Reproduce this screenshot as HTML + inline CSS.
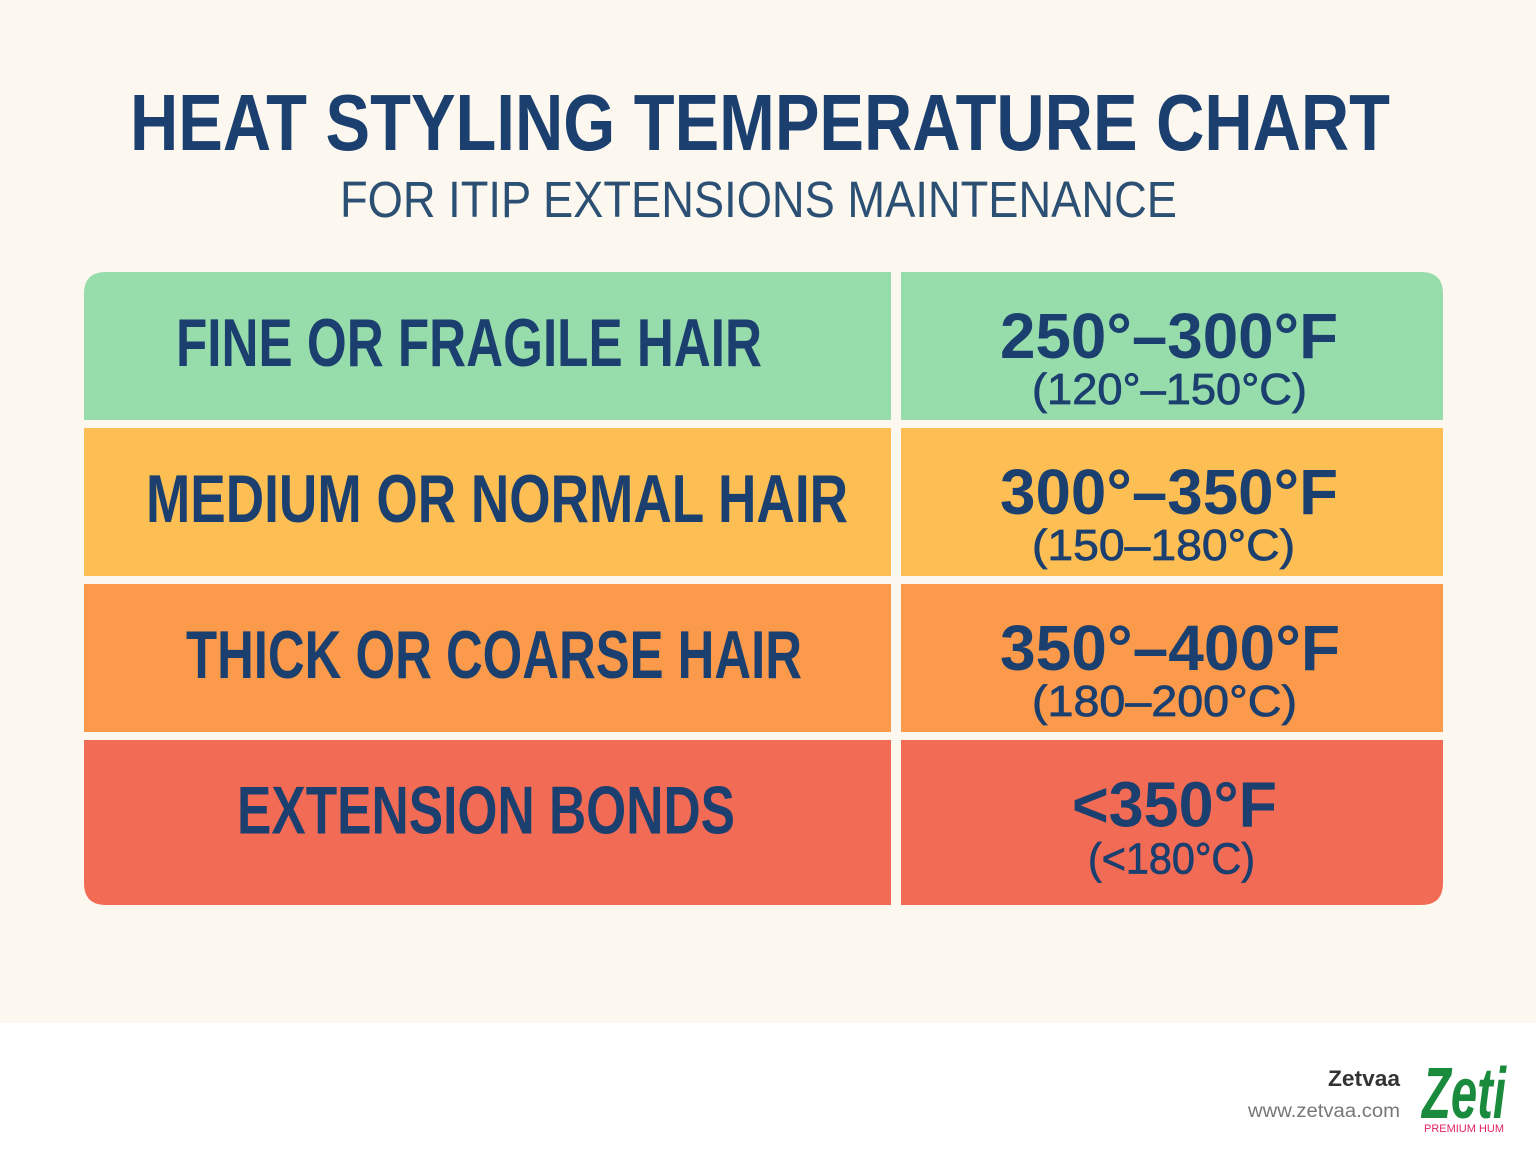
<!DOCTYPE html>
<html><head><meta charset="utf-8"><style>
html,body{margin:0;padding:0;width:1536px;height:1154px;overflow:hidden;background:#fff}
svg{display:block}
text{font-family:"Liberation Sans",sans-serif}
</style></head><body>
<svg id="chart" width="1536" height="1154" viewBox="0 0 1536 1154" xmlns="http://www.w3.org/2000/svg">
<rect x="0" y="0" width="1536" height="1023" fill="#fdf8ef"/>
<rect x="0" y="1023" width="1536" height="131" fill="#ffffff"/>
<text x="130" y="150" font-size="80" font-weight="bold" fill="#1b3f6e" textLength="1260" lengthAdjust="spacingAndGlyphs">HEAT STYLING TEMPERATURE CHART</text>
<text x="340" y="217" font-size="51" fill="#2b5073" textLength="837" lengthAdjust="spacingAndGlyphs">FOR ITIP EXTENSIONS MAINTENANCE</text>
<g id="rows"></g>
<text x="1400" y="1086" font-size="22" font-weight="bold" fill="#333" text-anchor="end" textLength="72" lengthAdjust="spacingAndGlyphs">Zetvaa</text>
<text x="1400" y="1117" font-size="19" fill="#777" text-anchor="end" textLength="152" lengthAdjust="spacingAndGlyphs">www.zetvaa.com</text>
<text x="1422" y="1118" font-family="Liberation Serif,serif" font-size="72" font-style="italic" font-weight="bold" fill="#1a8a3c" textLength="84" lengthAdjust="spacingAndGlyphs">Zeti</text>
<text x="1424" y="1132" font-size="11" fill="#e0245e" textLength="80" lengthAdjust="spacingAndGlyphs">PREMIUM HUM</text>
</svg>
<script>
const categories = ["FINE OR FRAGILE HAIR","MEDIUM OR NORMAL HAIR","THICK OR COARSE HAIR","EXTENSION BONDS"];
const tempF = ["250°–300°F","300°–350°F","350°–400°F","<350°F"];
const tempC = ["(120°–150°C)","(150–180°C)","(180–200°C)","(<180°C)"];
const rowColors = ["#97dcab","#fdbf53","#fa9a4a","#f26b55"];

const NS="http://www.w3.org/2000/svg";
const g=document.getElementById('rows');
const tops=[272,428,584,740], hs=[148,148,148,165];
const labelX=[176,146,186,237], labelW=[586,702,616,498], fW=[338,338,340,205], cW=[275,263,265,167];
function mk(tag,attrs){const e=document.createElementNS(NS,tag);for(const k in attrs)e.setAttribute(k,attrs[k]);g.appendChild(e);return e;}
function rowPath(x1,x2,y1,y2,tl,tr,br,bl){const r=22;
 return `M${x1+(tl?r:0)},${y1} L${x2-(tr?r:0)},${y1} ${tr?`Q${x2},${y1} ${x2},${y1+r}`:''} L${x2},${y2-(br?r:0)} ${br?`Q${x2},${y2} ${x2-r},${y2}`:''} L${x1+(bl?r:0)},${y2} ${bl?`Q${x1},${y2} ${x1},${y2-r}`:''} L${x1},${y1+(tl?r:0)} ${tl?`Q${x1},${y1} ${x1+r},${y1}`:''} Z`;}
categories.forEach((c,i)=>{
 const y=tops[i], h=hs[i], first=i===0, last=i===categories.length-1;
 const l=mk('path',{d:rowPath(84,891,y,y+h,first,false,false,last),fill:rowColors[i]});
 
 
 const r=mk('path',{d:rowPath(901,1443,y,y+h,false,first,last,false),fill:rowColors[i]});
 
 
 const cy=y+h/2;
 const t=mk('text',{x:labelX[i],y:cy+(last?11:20),'font-size':68,'font-weight':'bold',fill:'#1b3f6e',textLength:labelW[i],lengthAdjust:'spacingAndGlyphs'});
 t.textContent=c;
 
 
 const fx=last?1072:1000;
 const f=mk('text',{x:fx,y:cy+(last?4:12),'font-size':64,'font-weight':'bold',fill:'#1b3f6e',textLength:fW[i],lengthAdjust:'spacingAndGlyphs'});
 f.textContent=tempF[i];
 
 
 const cx=last?1088:1032;
 const ct=mk('text',{x:cx,y:cy+(last?51:58),'font-size':44,fill:'#1b3f6e',stroke:'#1b3f6e','stroke-width':0.8,textLength:cW[i],lengthAdjust:'spacingAndGlyphs'});
 ct.textContent=tempC[i];
 
 
});
</script>
</body></html>
